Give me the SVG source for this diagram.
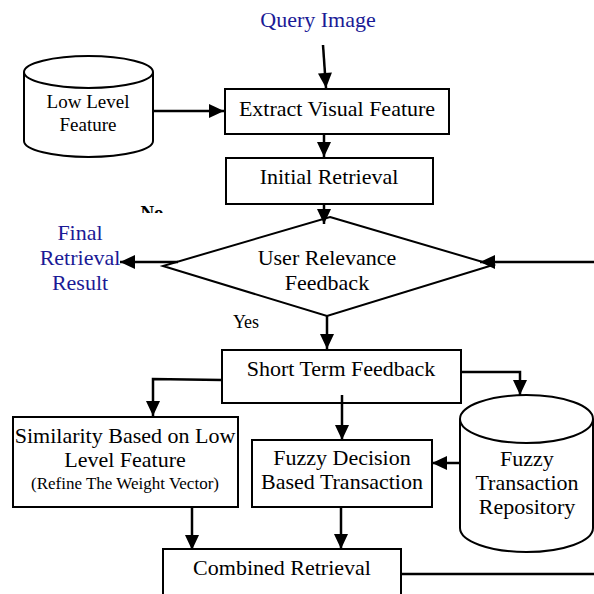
<svg xmlns="http://www.w3.org/2000/svg" width="594" height="594" viewBox="0 0 594 594">
<defs>
<style>
.box{fill:#fff;stroke:#000;stroke-width:2}
.t{font-family:"Liberation Serif","Times New Roman",serif;font-size:22px;fill:#000;text-anchor:middle}
.b{fill:#1a1a96}
.c{fill:none;stroke:#000;stroke-width:2.5}
</style>
<marker id="ah" markerUnits="userSpaceOnUse" markerWidth="16" markerHeight="14" refX="15" refY="7" orient="auto" overflow="visible">
<path d="M0,0 L15,7 L0,14 Z" fill="#000"/>
</marker>
<clipPath id="noclip"><rect x="0" y="0" width="594" height="213"/></clipPath>
</defs>
<rect width="594" height="594" fill="#fff"/>

<g id="query"><text class="t b" x="318" y="27">Query Image</text></g>

<g id="lowlevel">
<path class="box" d="M24,72 V141 A64.5,16 0 0 0 153,141 V72"/>
<ellipse class="box" cx="88.5" cy="72" rx="64.5" ry="16"/>
<text class="t" x="88" y="108" style="font-size:19px">Low Level</text>
<text class="t" x="88" y="131" style="font-size:19px">Feature</text>
</g>

<g id="extract"><rect class="box" x="225" y="89" width="224" height="45"/><text class="t" x="337" y="116">Extract Visual Feature</text></g>
<g id="initial"><rect class="box" x="226" y="158" width="207" height="46"/><text class="t" x="329" y="184">Initial Retrieval</text></g>

<g id="no"><text class="t" x="152" y="219" clip-path="url(#noclip)" style="font-size:19px;font-weight:bold">No</text></g>

<g id="diamond">
<path class="box" d="M330,217 L493,265 L327,316 L163,266 Z"/>
<text class="t" x="327" y="265">User Relevance</text>
<text class="t" x="327" y="290">Feedback</text>
</g>

<g id="final"><text class="t b" x="80" y="240">Final</text><text class="t b" x="80" y="265">Retrieval</text><text class="t b" x="80" y="290">Result</text></g>

<g id="yes"><text class="t" x="246" y="328" style="font-size:18px">Yes</text></g>

<g id="short"><rect class="box" x="222" y="350" width="239" height="53"/><text class="t" x="341" y="376">Short Term Feedback</text></g>

<g id="similarity"><rect class="box" x="13" y="417" width="225" height="90"/>
<text class="t" x="125" y="443">Similarity Based on Low</text>
<text class="t" x="125" y="467">Level Feature</text>
<text class="t" x="125" y="489" style="font-size:17px">(Refine The Weight Vector)</text></g>

<g id="fuzzydecision"><rect class="box" x="252" y="440" width="180" height="67"/>
<text class="t" x="342" y="465">Fuzzy Decision</text>
<text class="t" x="342" y="489">Based Transaction</text></g>

<g id="repository">
<path class="box" d="M460,419 V528 A66.5,24 0 0 0 593,528 V419"/>
<ellipse class="box" cx="526.5" cy="419" rx="66.5" ry="24"/>
<text class="t" x="527" y="466">Fuzzy</text>
<text class="t" x="527" y="490">Transaction</text>
<text class="t" x="527" y="514">Repository</text>
</g>

<g id="combined"><rect class="box" x="163" y="549" width="238" height="60"/><text class="t" x="282" y="575">Combined Retrieval</text></g>

<g id="connectors">
<path class="c" d="M323,45 L326,88" marker-end="url(#ah)"/>
<path class="c" d="M153,111 L224,111" marker-end="url(#ah)"/>
<path class="c" d="M324,134 L324,157" marker-end="url(#ah)"/>
<path class="c" d="M324,204 L324,224" marker-end="url(#ah)"/>
<path class="c" d="M178,262 L120,262" marker-end="url(#ah)"/>
<path class="c" d="M594,262 L480,262" marker-end="url(#ah)"/>
<path class="c" d="M327,316 L327,349" marker-end="url(#ah)"/>
<path class="c" d="M222,380 L153,379 L153,416" marker-end="url(#ah)"/>
<path class="c" d="M461,372 L520,372 L520,395" marker-end="url(#ah)"/>
<path class="c" d="M342,395 L342,440" marker-end="url(#ah)"/>
<path class="c" d="M460,463 L432,463" marker-end="url(#ah)"/>
<path class="c" d="M192,507 L192,550" marker-end="url(#ah)"/>
<path class="c" d="M341,507 L341,549" marker-end="url(#ah)"/>
<path class="c" d="M401,574 L594,574"/>
</g>
</svg>
